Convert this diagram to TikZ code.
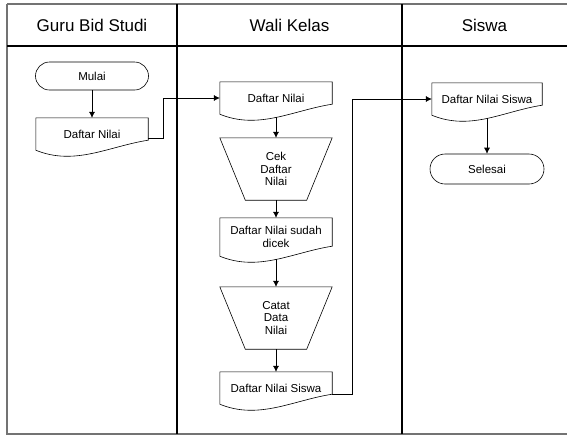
\documentclass[tikz,border=0pt]{standalone}
\usepackage{fontspec}
\setmainfont{Liberation Sans}
\usetikzlibrary{arrows.meta}

\begin{document}
\begin{tikzpicture}[x=1pt,y=-1pt,frame/.style={line width=1.3pt,draw=black!55},lane/.style={line width=1.2pt},head/.style={font=\fontsize{17}{20}\selectfont},term/.style={draw,line width=0.6pt,rounded corners=14pt,minimum width=113pt,minimum height=28pt,font=\fontsize{11.5}{13}\selectfont},docu/.style={minimum width=112pt,minimum height=32pt,inner sep=1pt,align=center,font=\fontsize{11.5}{13}\selectfont},trap/.style={minimum width=112pt,minimum height=62pt,inner sep=1pt,align=center,font=\fontsize{11.5}{12.5}\selectfont},flow/.style={-{Latex[length=6pt,width=6pt]},line width=0.6pt}]
\useasboundingbox (0,0) rectangle (567,437);
\def\dip{16}
\def\cx{39}
\def\slant{25.5}
\def\docshape#1{\draw[line width=0.6pt] (#1.north west) -- (#1.south west) .. controls +(\cx,\dip) and +(-\cx,6) .. ([yshift=10pt]#1.south east) -- (#1.north east) -- cycle;}
\def\funnel#1{\draw[line width=0.6pt] (#1.north west) -- (#1.north east) -- ([xshift=-\slant pt]#1.south east) -- ([xshift=\slant pt]#1.south west) -- cycle;}

% lanes
\draw[frame] (7,4) -- (567,4);
\draw[frame] (7,4) -- (7,434) -- (567,434);
\draw[lane] (7,46) -- (567,46);
\draw[lane] (177,4) -- (177,434);
\draw[lane] (402,4) -- (402,434);

\node[head] (hguru) at (92,25) {Guru Bid Studi};
\node[head] (hwali) at (289.5,25) {Wali Kelas};
\node[head] (hsiswa) at (484.5,25) {Siswa};

% guru bid studi
\node[term] (mulai) at (92,76) {Mulai};
\node[docu] (dnilai) at (92,134) {Daftar Nilai};
\docshape{dnilai}

% wali kelas
\node[docu] (dnilaiw) at (276,98) {Daftar Nilai};
\docshape{dnilaiw}
\node[trap] (cek) at (276,169) {Cek\\Daftar\\Nilai};
\funnel{cek}
\node[docu,minimum height=38pt] (dicek) at (276,237) {Daftar Nilai sudah\\dicek};
\docshape{dicek}
\node[trap] (catat) at (276,318) {Catat\\Data\\Nilai};
\funnel{catat}
\node[docu] (dsiswa) at (276,388) {Daftar Nilai Siswa};
\docshape{dsiswa}

% siswa
\node[docu,minimum width=110pt] (dsiswas) at (487,99) {Daftar Nilai Siswa};
\docshape{dsiswas}
\node[term,minimum width=114pt,minimum height=30pt,rounded corners=15pt] (selesai) at (487,169) {Selesai};

\draw[flow] (mulai) -- (dnilai);
\draw[flow] ([yshift=-4pt]dnilai.east) -- ++(15,0) |- (dnilaiw.west);
\draw[flow] ([yshift=-3pt]dnilaiw.south) -- (cek);
\draw[flow] (cek) -- (dicek);
\draw[flow] ([yshift=-3pt]dicek.south) -- (catat);
\draw[flow] (catat) -- (dsiswa);
\draw[flow] ([yshift=-6pt]dsiswa.east) -- ++(20,0) |- (dsiswas.west);
\draw[flow] ([yshift=-3pt]dsiswas.south) -- (selesai);

\end{tikzpicture}
\end{document}
